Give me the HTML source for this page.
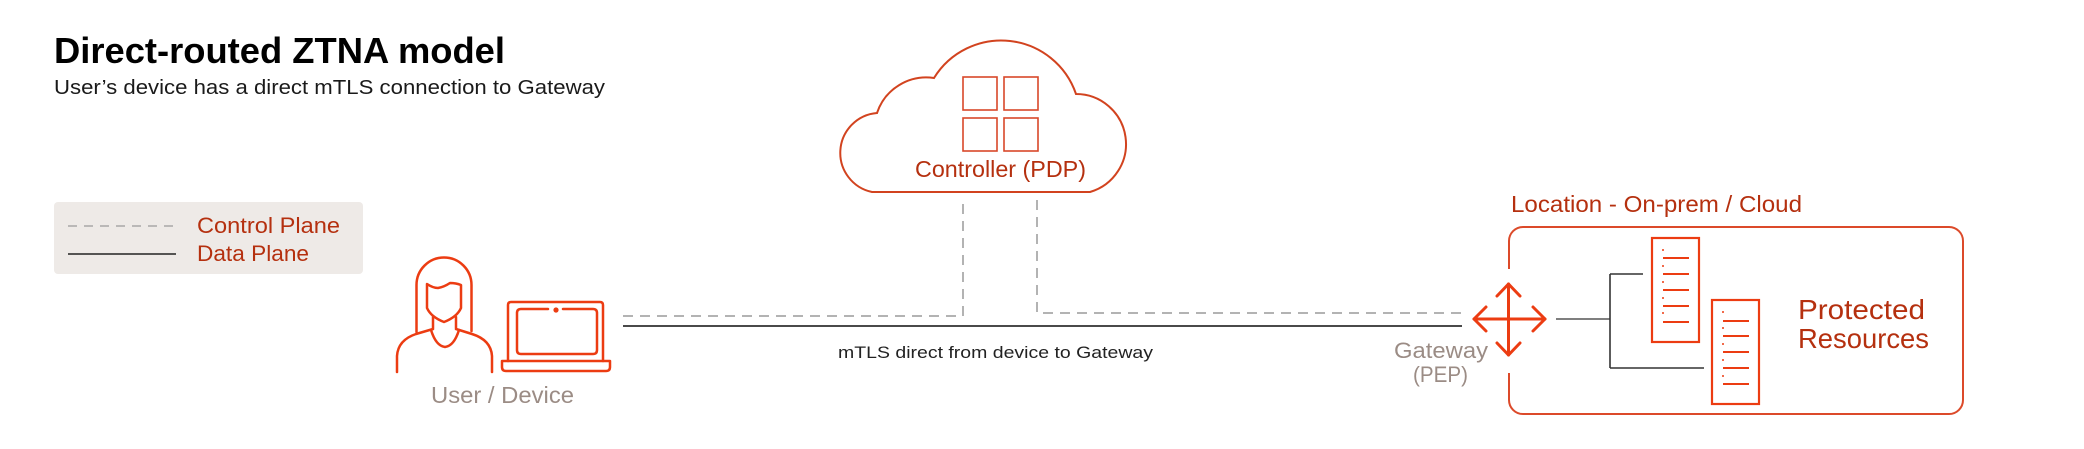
<!DOCTYPE html>
<html>
<head>
<meta charset="utf-8">
<style>
  html, body { margin:0; padding:0; background:#ffffff; }
  body { width:2084px; height:449px; overflow:hidden; }
  svg { display:block; }
  text { font-family: "Liberation Sans", "DejaVu Sans", sans-serif; }
</style>
</head>
<body>
<svg width="2084" height="449" viewBox="0 0 2084 449" xmlns="http://www.w3.org/2000/svg">
  <rect x="0" y="0" width="2084" height="449" fill="#ffffff"/>

  <!-- Title -->
  <text x="54" y="63" font-size="36" font-weight="bold" fill="#000" textLength="451" lengthAdjust="spacingAndGlyphs">Direct-routed ZTNA model</text>
  <text x="54" y="94" font-size="20" fill="#1a1a1a" textLength="551" lengthAdjust="spacingAndGlyphs">User’s device has a direct mTLS connection to Gateway</text>

  <!-- Legend -->
  <rect x="54" y="202" width="309" height="72" rx="4" fill="#eeeae7"/>
  <line x1="68" y1="226" x2="176" y2="226" stroke="#9a9a9a" stroke-width="1.3" stroke-dasharray="9,7"/>
  <line x1="68" y1="254" x2="176" y2="254" stroke="#222" stroke-width="1.5"/>
  <text x="197" y="233" font-size="22" fill="#b5300f" textLength="143" lengthAdjust="spacingAndGlyphs">Control Plane</text>
  <text x="197" y="261" font-size="22" fill="#b5300f" textLength="112" lengthAdjust="spacingAndGlyphs">Data Plane</text>

  <!-- Cloud -->
  <path d="M872,192 A40,40 0 0 1 877,113 A52,52 0 0 1 934,78 A79,79 0 0 1 1076,94 A50,50 0 0 1 1090,192 Z"
        fill="none" stroke="#d2431f" stroke-width="2" stroke-linejoin="miter"/>
  <g fill="none" stroke="#d9482a" stroke-width="1.6">
    <rect x="963" y="77" width="34" height="33"/>
    <rect x="1004" y="77" width="34" height="33"/>
    <rect x="963" y="118" width="34" height="33"/>
    <rect x="1004" y="118" width="34" height="33"/>
  </g>
  <text x="915" y="177" font-size="23" fill="#b5300f" textLength="171" lengthAdjust="spacingAndGlyphs">Controller (PDP)</text>

  <!-- Connectors -->
  <path d="M623,316 H963 V200" fill="none" stroke="#9a9a9a" stroke-width="1.5" stroke-dasharray="10,7"/>
  <path d="M1037,200 V313 H1462" fill="none" stroke="#9a9a9a" stroke-width="1.5" stroke-dasharray="10,7"/>
  <line x1="623" y1="326" x2="1462" y2="326" stroke="#4a4a4a" stroke-width="2"/>
  <text x="838" y="358" font-size="17" fill="#222" textLength="315" lengthAdjust="spacingAndGlyphs">mTLS direct from device to Gateway</text>

  <!-- Person -->
  <g fill="none" stroke="#ec3c12" stroke-width="2.5" stroke-linejoin="round" stroke-linecap="round">
    <path d="M416.5,332 L416.5,285 A27.5,27.5 0 0 1 471.5,285 L471.5,331"/>
    <path d="M427,284 Q433,288 438,288 Q444,287 450,283 Q456,283 461,285 L461,308 Q457,317 444,322 Q431,317 427,308 Z"/>
    <path d="M433,317 L433,328"/>
    <path d="M456,317 L456,328"/>
    <path d="M431,330 Q436,346 445,347 Q454,346 459,330"/>
    <path d="M397,372 L397,356 Q398,340 416,334 L433,329"/>
    <path d="M492,372 L492,356 Q491,340 472,334 L456,329"/>
  </g>

  <!-- Laptop -->
  <g fill="none" stroke="#ec3c12" stroke-width="2.5" stroke-linejoin="round" stroke-linecap="round">
    <path d="M508,361 L508,305 Q508,302 511,302 L600,302 Q603,302 603,305 L603,361"/>
    <path d="M548,309 L521,309 Q517,309 517,313 L517,350 Q517,354 521,354 L593,354 Q597,354 597,350 L597,313 Q597,309 593,309 L563,309"/>
    <path d="M502,361 L610,361 L610,367 Q610,371 606,371 L506,371 Q502,371 502,367 Z"/>
  </g>
  <circle cx="556" cy="310" r="2.6" fill="#ec3c12"/>
  <text x="431" y="403" font-size="23" fill="#9b8c85" textLength="143" lengthAdjust="spacingAndGlyphs">User / Device</text>

  <!-- Location box -->
  <text x="1511" y="212" font-size="23" fill="#b5300f" textLength="291" lengthAdjust="spacingAndGlyphs">Location - On-prem / Cloud</text>
  <path d="M1509,269 V241 A14,14 0 0 1 1523,227 H1949 A14,14 0 0 1 1963,241 V400 A14,14 0 0 1 1949,414 H1523 A14,14 0 0 1 1509,400 V373"
        fill="none" stroke="#dc4a2a" stroke-width="2"/>

  <!-- Gateway arrows -->
  <g fill="none" stroke="#ec3c12" stroke-width="3" stroke-linecap="round" stroke-linejoin="round">
    <line x1="1474" y1="319" x2="1545" y2="319"/>
    <line x1="1508.5" y1="284" x2="1508.5" y2="355"/>
    <path d="M1486,307 L1474,319 L1486,331"/>
    <path d="M1533,307 L1545,319 L1533,331"/>
    <path d="M1497,296 L1508.5,284 L1520,296"/>
    <path d="M1497,343 L1508.5,355 L1520,343"/>
  </g>
  <text x="1394" y="358" font-size="22" fill="#9b8c85" textLength="94" lengthAdjust="spacingAndGlyphs">Gateway</text>
  <text x="1413" y="382" font-size="22" fill="#9b8c85" textLength="55" lengthAdjust="spacingAndGlyphs">(PEP)</text>

  <!-- Tree lines -->
  <g fill="none" stroke="#333" stroke-width="1.6">
    <line x1="1556" y1="319" x2="1610" y2="319" stroke="#555"/>
    <line x1="1610" y1="274" x2="1610" y2="368"/>
    <line x1="1610" y1="274" x2="1643" y2="274"/>
    <line x1="1610" y1="368" x2="1704" y2="368"/>
  </g>

  <!-- Servers -->
  <g fill="none" stroke="#ec3c12" stroke-width="2.2">
    <rect x="1652" y="238" width="47" height="104"/>
    <rect x="1712" y="300" width="47" height="104"/>
  </g>
  <g stroke="#ec3c12" stroke-width="2">
    <line x1="1663" y1="258" x2="1689" y2="258"/>
    <line x1="1663" y1="274" x2="1689" y2="274"/>
    <line x1="1663" y1="290" x2="1689" y2="290"/>
    <line x1="1663" y1="306" x2="1689" y2="306"/>
    <line x1="1663" y1="322" x2="1689" y2="322"/>
    <line x1="1723" y1="321" x2="1749" y2="321"/>
    <line x1="1723" y1="336" x2="1749" y2="336"/>
    <line x1="1723" y1="352" x2="1749" y2="352"/>
    <line x1="1723" y1="368" x2="1749" y2="368"/>
    <line x1="1723" y1="384" x2="1749" y2="384"/>
  </g>
  <g fill="#ec3c12">
    <circle cx="1663" cy="250" r="1"/>
    <circle cx="1663" cy="266" r="1"/>
    <circle cx="1663" cy="282" r="1"/>
    <circle cx="1663" cy="298" r="1"/>
    <circle cx="1663" cy="313" r="1"/>
    <circle cx="1723" cy="312" r="1"/>
    <circle cx="1723" cy="328" r="1"/>
    <circle cx="1723" cy="344" r="1"/>
    <circle cx="1723" cy="360" r="1"/>
    <circle cx="1723" cy="376" r="1"/>
  </g>

  <text x="1798" y="319" font-size="28" fill="#b5300f" textLength="127" lengthAdjust="spacingAndGlyphs">Protected</text>
  <text x="1798" y="348" font-size="28" fill="#b5300f" textLength="131" lengthAdjust="spacingAndGlyphs">Resources</text>
</svg>
</body>
</html>
